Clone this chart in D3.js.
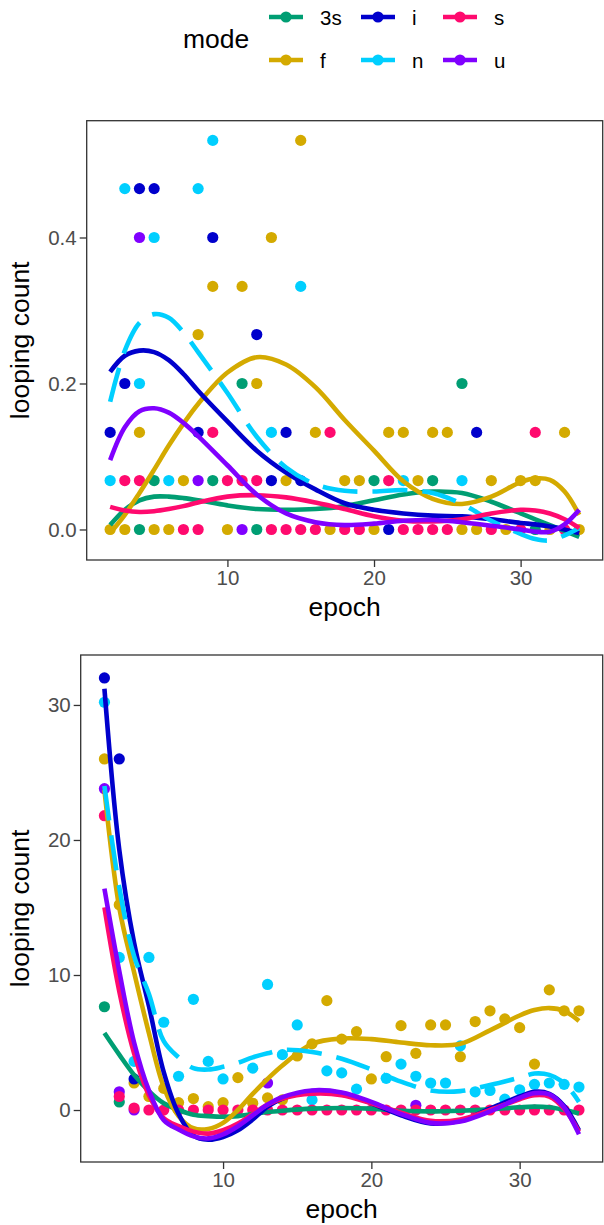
<!DOCTYPE html>
<html>
<head>
<meta charset="utf-8">
<script src="https://cdnjs.cloudflare.com/ajax/libs/d3/7.8.5/d3.min.js"></script>
<style>
  body { margin: 0; background: #fff; }
  text { font-family: "Liberation Sans", Arial, sans-serif; }
</style>
</head>
<body>
<div id="chart"></div>
<script>
// modes, in factor order
var modes = ["3s", "f", "i", "n", "s", "u"];
var modeColors = ["#009E73", "#D4AA00", "#0000CC", "#00CFFF", "#FF0A6E", "#8000FF"];

var epochTicks = [10, 20, 30];
var countTicksTop = [0, 0.2, 0.4];
var countTicksBottom = [0, 10, 20, 30];

// ---- top panel: observed points [epoch, looping count]
var top3s = [[4,0],[5,0.067],[9,0.067],[11,0.2],[12,0],[20,0.067],[24,0.067],[26,0.2],[31,0]];
var topF = [[2,0],[3,0],[4,0.133],[5,0],[6,0],[7,0.067],[8,0.267],[9,0.333],[10,0],[11,0.333],[12,0.2],
  [13,0.4],[14,0.067],[15,0.533],[16,0.133],[17,0],[18,0.067],[19,0.067],[20,0],[21,0.133],[22,0.133],
  [23,0.067],[24,0.133],[25,0.133],[26,0],[27,0],[28,0.067],[29,0],[30,0.067],[31,0.067],[32,0],[33,0.133],[34,0]];
var topI = [[2,0.133],[3,0.2],[4,0.467],[5,0.467],[8,0.133],[9,0.4],[12,0.267],[13,0.067],[14,0.133],[15,0.067],[21,0],[27,0.133]];
var topN = [[2,0.067],[3,0.467],[4,0.2],[5,0.4],[6,0.067],[8,0.467],[9,0.533],[13,0.133],[15,0.333],[22,0.067],[26,0.067]];
var topS = [[3,0.067],[4,0.067],[7,0],[8,0],[9,0.133],[10,0.067],[11,0.067],[12,0.067],[13,0],[14,0],[15,0],[16,0],
  [17,0.133],[18,0],[19,0],[21,0.067],[22,0],[23,0],[24,0],[25,0],[28,0],[30,0],[31,0.133],[33,0]];
var topU = [[4,0.4],[8,0.067],[11,0]];

// ---- top panel: smoothed fits read at these epochs
var topFitEpochs = [2,3,4,5,6,7,8,10,12,14,16,18,20,22,24,26,28,30,31,32,33,34];
var topFit3s = [0.006,0.027,0.04,0.045,0.045,0.043,0.04,0.033,0.028,0.027,0.028,0.032,0.04,0.048,0.052,0.05,0.038,0.022,0.014,0.006,-0.002,-0.01];
var topFitF = [-0.005,0.02,0.05,0.082,0.115,0.145,0.172,0.215,0.236,0.226,0.195,0.15,0.108,0.066,0.042,0.035,0.045,0.065,0.07,0.068,0.052,0.02];
var topFitI = [0.216,0.238,0.245,0.243,0.232,0.213,0.19,0.148,0.108,0.078,0.055,0.036,0.027,0.022,0.019,0.018,0.014,0.009,0.007,0.004,0,-0.005];
var topFitN = [0.175,0.245,0.283,0.295,0.29,0.27,0.243,0.187,0.127,0.085,0.062,0.053,0.052,0.054,0.05,0.035,0.012,-0.006,-0.013,-0.015,-0.008,0.002];
var topFitS = [0.031,0.026,0.024,0.025,0.028,0.032,0.037,0.045,0.047,0.044,0.037,0.028,0.018,0.012,0.011,0.014,0.022,0.027,0.026,0.022,0.014,0.002];
var topFitU = [0.095,0.14,0.162,0.166,0.16,0.146,0.128,0.088,0.048,0.022,0.01,0.006,0.008,0.012,0.013,0.01,0.005,0,-0.003,-0.003,0.007,0.027];

// ---- bottom panel: observed points
var bot3s = [[2,7.65],[3,0.6]];
var botF = [[2,26.0],[3,15.2],[4,2.0],[5,1.0],[6,1.6],[7,0.55],[8,0.85],[9,0.25],[10,0.55],[11,2.4],[12,0.5],
  [13,0.9],[14,0.75],[15,4.0],[16,4.9],[17,8.1],[18,5.25],[19,5.8],[20,2.3],[21,3.95],[22,6.25],[23,4.2],
  [24,6.3],[25,6.3],[26,3.95],[27,6.55],[28,7.35],[29,6.75],[30,6.1],[31,3.4],[32,8.9],[33,7.35],[34,7.35]];
var botI = [[2,32.0],[3,26.0],[4,2.3]];
var botN = [[2,30.2],[3,11.3],[4,3.6],[5,11.3],[6,6.5],[7,2.5],[8,8.2],[9,3.6],[10,2.3],[12,3.1],[13,9.3],
  [14,4.1],[15,6.3],[16,0.75],[17,2.9],[18,2.75],[19,1.55],[21,2.35],[22,3.4],[23,2.5],[24,2.0],[25,2.0],
  [26,4.75],[27,1.35],[28,1.45],[29,0.8],[30,1.5],[31,1.9],[32,2.0],[33,1.9],[34,1.7]];
var botU = [[2,23.8],[3,1.35],[4,0],[13,2.0],[23,0.35]];
var botS = [[2,21.8],[3,1.0],[4,0.15],[5,0],[6,0],[7,0],[8,0],[9,0],[10,0],[11,0],[12,0],[13,0],[14,0],[15,0],
  [16,0],[17,0],[18,0],[19,0],[20,0],[21,0],[22,0],[23,0],[24,0],[25,0],[26,0],[27,0],[28,0],[29,0],[30,0],
  [31,0],[32,0],[33,0],[34,0]];

// ---- bottom panel: smoothed fits
var botFitEpochs = [2,3,4,5,6,7,8,9,10,11,12,13,14,16,18,20,22,24,26,28,30,31,32,33,34];
var botFit3s = [5.7,4.1,2.6,1.4,0.5,0,-0.35,-0.45,-0.5,-0.45,-0.3,-0.15,-0.05,0.1,0.15,0.1,-0.05,-0.1,-0.05,0.05,0.2,0.25,0.2,0,-0.25];
var botFitF = [23.7,15.0,10.2,5.7,1.7,-0.45,-1.35,-1.4,-0.95,0,1.2,2.3,3.3,4.9,5.3,5.25,5.0,4.8,4.9,5.9,7.0,7.4,7.55,7.35,6.6];
var botFitI = [31.2,19.3,12.4,7.7,2.8,-0.3,-1.9,-2.2,-2.0,-1.5,-0.7,0.25,0.85,1.4,1.25,0.5,-0.4,-1.0,-0.8,0.1,1.0,1.35,1.2,0.3,-1.5];
var botFitN = [24.0,16.5,11.4,8.6,5.1,3.9,3.1,3.0,3.2,3.5,3.9,4.2,4.45,4.3,3.8,3.0,2.1,1.45,1.4,1.85,2.4,2.7,2.6,2.0,0.6];
var botFitS = [15.0,8.8,4.2,1.1,-0.6,-1.2,-1.6,-1.75,-1.5,-1.0,-0.3,0.4,0.85,1.2,1.1,0.5,-0.2,-0.8,-0.7,0,0.8,1.1,1.0,0.1,-1.6];
var botFitU = [16.4,10.3,5.0,1.45,-0.75,-1.45,-1.95,-2.1,-1.8,-1.2,-0.4,0.4,0.95,1.45,1.3,0.6,-0.3,-0.95,-0.85,-0.1,0.9,1.25,1.15,0.2,-1.8];

var svgWidth = 604;
var svgHeight = 1225;

var svg = d3.select("#chart")
  .append("svg")
  .attr("width", svgWidth)
  .attr("height", svgHeight);

svg.append("rect")
  .attr("width", svgWidth)
  .attr("height", svgHeight)
  .attr("fill", "#fff");

var color = d3.scaleOrdinal().domain(modes).range(modeColors);

function drawPanel(cfg) {
  var x = d3.scaleLinear().domain([0.4, 35.6]).range([cfg.left, cfg.right]);
  var y = d3.scaleLinear().domain(cfg.yDomain).range([cfg.bottom, cfg.top]);

  var g = svg.append("g");

  // points, then fitted lines on top
  var pointOrder = ["3s", "f", "i", "n", "u", "s"];
  pointOrder.forEach(function (m) {
    g.append("g").selectAll("circle")
      .data(cfg.points[m])
      .enter()
      .append("circle")
      .attr("cx", d => x(d[0]))
      .attr("cy", d => y(d[1]))
      .attr("r", 5.6)
      .attr("fill", color(m));
  });

  var line = d3.line()
    .x(d => x(d[0]))
    .y(d => y(d[1]))
    .curve(d3.curveCatmullRom.alpha(0.5));

  modes.forEach(function (m) {
    var pts = cfg.fitEpochs.map((e, i) => [e, cfg.fits[m][i]]);
    g.append("path")
      .datum(pts)
      .attr("d", line)
      .attr("fill", "none")
      .attr("stroke", color(m))
      .attr("stroke-width", 4.6)
      .attr("stroke-dasharray", m === "n" ? "35,15" : null);
  });

  // axes
  var xAxis = g.append("g")
    .attr("transform", `translate(0, ${cfg.bottom})`)
    .call(d3.axisBottom(x).tickValues(epochTicks).tickSize(7).tickPadding(3));
  var yAxis = g.append("g")
    .attr("transform", `translate(${cfg.left}, 0)`)
    .call(d3.axisLeft(y).tickValues(cfg.yTicks).tickFormat(cfg.format).tickSize(7).tickPadding(3));

  [xAxis, yAxis].forEach(function (a) {
    a.select(".domain").remove();
    a.selectAll("line").attr("stroke", "#333").attr("stroke-width", 1.3);
    a.selectAll("text")
      .attr("fill", "#4d4d4d")
      .style("font-size", "20.5px")
      .style("font-family", "'Liberation Sans', Arial, sans-serif");
  });

  // panel border
  g.append("rect")
    .attr("x", cfg.left)
    .attr("y", cfg.top)
    .attr("width", cfg.right - cfg.left)
    .attr("height", cfg.bottom - cfg.top)
    .attr("fill", "none")
    .attr("stroke", "#333")
    .attr("stroke-width", 1.3);

  // axis titles
  g.append("text")
    .attr("x", (cfg.left + cfg.right) / 2)
    .attr("y", cfg.bottom + 56)
    .attr("text-anchor", "middle")
    .style("font-size", "26.5px")
    .text("epoch");

  g.append("text")
    .attr("transform", `translate(29, ${(cfg.top + cfg.bottom) / 2}) rotate(-90)`)
    .attr("text-anchor", "middle")
    .style("font-size", "26.5px")
    .text("looping count");
}

drawPanel({
  left: 86.7, right: 602.7, top: 120.7, bottom: 560,
  yDomain: [-0.0418, 0.56],
  yTicks: countTicksTop,
  format: d3.format(".1f"),
  points: { "3s": top3s, "f": topF, "i": topI, "n": topN, "s": topS, "u": topU },
  fitEpochs: topFitEpochs,
  fits: { "3s": topFit3s, "f": topFitF, "i": topFitI, "n": topFitN, "s": topFitS, "u": topFitU }
});

drawPanel({
  left: 80.7, right: 602.7, top: 655, bottom: 1162,
  yDomain: [-3.85, 33.7],
  yTicks: countTicksBottom,
  format: d3.format("d"),
  points: { "3s": bot3s, "f": botF, "i": botI, "n": botN, "s": botS, "u": botU },
  fitEpochs: botFitEpochs,
  fits: { "3s": botFit3s, "f": botFitF, "i": botFitI, "n": botFitN, "s": botFitS, "u": botFitU }
});

// legend: two rows, filled by column
var legend = svg.append("g");
legend.append("text")
  .attr("x", 183)
  .attr("y", 48)
  .style("font-size", "26.5px")
  .text("mode");

var keyX = [269, 361, 443];
var keyY = [17, 60];
modes.forEach(function (m, i) {
  var col = Math.floor(i / 2);
  var row = i % 2;
  var k = legend.append("g")
    .attr("transform", `translate(${keyX[col]}, ${keyY[row]})`);
  k.append("line")
    .attr("x1", 0).attr("x2", 34)
    .attr("stroke", color(m))
    .attr("stroke-width", 4.6);
  k.append("circle")
    .attr("cx", 17)
    .attr("r", 5.6)
    .attr("fill", color(m));
  k.append("text")
    .attr("x", 51)
    .attr("y", 7.5)
    .style("font-size", "20.5px")
    .text(m);
});
</script>
</body>
</html>
